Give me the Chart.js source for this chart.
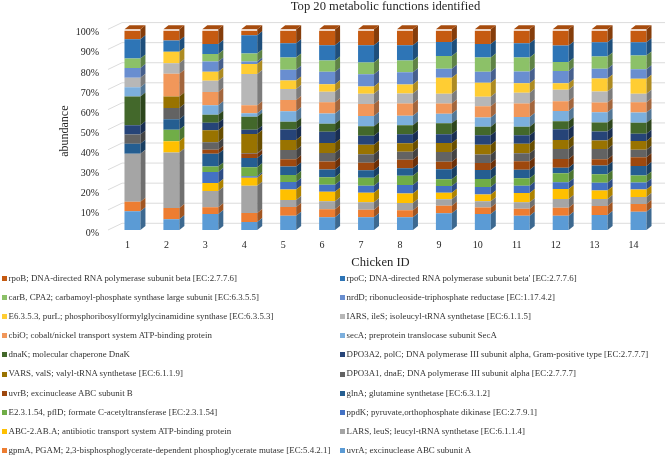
<!DOCTYPE html>
<html>
<head>
<meta charset="utf-8">
<script src="https://cdn.jsdelivr.net/npm/chart.js@4"></script>
<style>
  html, body { margin: 0; padding: 0; background: #fff; }
  #wrap { position: relative; width: 668px; height: 457px; overflow: hidden; }
  #legend { position: absolute; left: 0; top: 268.5px; width: 668px; display: grid; grid-template-columns: 340px 328px; grid-auto-rows: 19.2px; font: 8.9px "Liberation Serif", serif; color: #333; }
  #legend div { white-space: nowrap; line-height: 19.2px; display: flex; align-items: center; }
  #legend i { width: 5px; height: 5px; margin: 0 1.5px 0 2px; flex: none; }
  #legend div:nth-child(even) i { margin-left: 0; }
</style>
</head>
<body>
<div id="wrap">
  <canvas id="chart" width="668" height="457"></canvas>
  <div id="legend"></div>
</div>
<script>
const chickens = ['1', '2', '3', '4', '5', '6', '7', '8', '9', '10', '11', '12', '13', '14'];

// abundance per function
const uvrA   = [9.3, 5.3, 8, 4, 7.1, 6.3, 6.3, 6.3, 8.3, 8, 7.1, 7.1, 7.5, 9.1];
const gpmA   = [4.8, 5.6, 3.3, 4.5, 4.3, 4, 3.8, 3.5, 3.8, 3.2, 3.5, 4, 4.5, 3.8];
const lars   = [23.8, 27.6, 8.1, 13.6, 3.5, 4, 3.8, 3.7, 3.2, 3.2, 3.3, 4.3, 3.5, 3.5];
const abc    = [0, 5.6, 4, 4, 5.3, 4.7, 4.7, 4.7, 3.3, 3.3, 4.5, 5, 4.2, 3.8];
const ppdK   = [0, 0, 5.5, 0.7, 3.7, 3.5, 3.5, 4.3, 3.3, 3.8, 3.7, 3.3, 3.8, 3.5];
const pflD   = [0, 5.6, 2.8, 4.5, 3.5, 3.8, 4, 4.5, 3.3, 4, 3.7, 4.5, 4.3, 3.5];
const glnA   = [5, 5.3, 6.3, 4.6, 4.2, 3.8, 3.7, 3.8, 5.1, 4.5, 4.2, 2.8, 4.3, 4.7];
const uvrB   = [0, 0, 2, 2.2, 3.7, 4, 3.8, 4.2, 3.7, 3.5, 4.3, 4.3, 3.2, 4.3];
const dnaE   = [4.6, 5.6, 3.7, 0.3, 4.5, 4.3, 4.2, 4, 4.8, 4.2, 4, 5, 5, 3.8];
const vars   = [0, 5.6, 6, 9.5, 5, 5, 4.7, 4.3, 4.5, 4.8, 4.7, 4.5, 4.3, 4.3];
const polC   = [4.6, 0, 3.7, 2.2, 5.3, 5.5, 4.5, 4.5, 4.3, 4.8, 4.2, 5.3, 4.5, 3.7];
const dnaK   = [14.3, 0, 4, 6.5, 3.8, 4, 4.8, 4.5, 5.5, 4.2, 4.3, 4, 4.5, 5.5];
const secA   = [4.6, 0, 4.8, 1.7, 5.3, 5.1, 5.1, 4.7, 4.8, 4.7, 4.8, 5.1, 5.1, 5];
const cbiO   = [0, 11.3, 6.6, 4, 5.6, 5.6, 6, 6.1, 5.1, 5.6, 6.8, 4.8, 4.8, 5.1];
const iars   = [4.8, 5.3, 5.6, 15.6, 5.5, 5.3, 5, 5, 4.8, 4.7, 5.3, 5.8, 5.5, 4.3];
const purL   = [0, 5.6, 4.5, 5, 4.2, 3.7, 3.7, 4.5, 8, 7, 4.8, 3.2, 6.5, 7.5];
const nrdD   = [4.8, 0, 5.1, 1.2, 5.3, 6.3, 6.1, 6.1, 4.5, 5.5, 5.8, 6.1, 4.8, 4.7];
const carB   = [4.8, 0, 3.7, 4, 6.1, 5.5, 5.8, 5.8, 6.3, 7.1, 7, 4.5, 6.1, 6.8];
const rpoC   = [9.5, 5.6, 5, 9.1, 7.1, 7.6, 8.6, 7.6, 7, 6.8, 7.1, 8.1, 7.1, 6.6];
const rpoB   = [5, 5.6, 7.3, 3, 7, 8, 8, 8, 6.3, 7.3, 7, 8.1, 6.5, 6.5];

// legend order, the stack runs the other way round (uvrA at the bottom)
const names = [
  'rpoB; DNA-directed RNA polymerase subunit beta [EC:2.7.7.6]',
  "rpoC; DNA-directed RNA polymerase subunit beta' [EC:2.7.7.6]",
  'carB, CPA2; carbamoyl-phosphate synthase large subunit [EC:6.3.5.5]',
  'nrdD; ribonucleoside-triphosphate reductase [EC:1.17.4.2]',
  'E6.3.5.3, purL; phosphoribosylformylglycinamidine synthase [EC:6.3.5.3]',
  'IARS, ileS; isoleucyl-tRNA synthetase [EC:6.1.1.5]',
  'cbiO; cobalt/nickel transport system ATP-binding protein',
  'secA; preprotein translocase subunit SecA',
  'dnaK; molecular chaperone DnaK',
  'DPO3A2, polC; DNA polymerase III subunit alpha, Gram-positive type [EC:2.7.7.7]',
  'VARS, valS; valyl-tRNA synthetase [EC:6.1.1.9]',
  'DPO3A1, dnaE; DNA polymerase III subunit alpha [EC:2.7.7.7]',
  'uvrB; excinuclease ABC subunit B',
  'glnA; glutamine synthetase [EC:6.3.1.2]',
  'E2.3.1.54, pflD; formate C-acetyltransferase [EC:2.3.1.54]',
  'ppdK; pyruvate,orthophosphate dikinase [EC:2.7.9.1]',
  'ABC-2.AB.A; antibiotic transport system ATP-binding protein',
  'LARS, leuS; leucyl-tRNA synthetase [EC:6.1.1.4]',
  'gpmA, PGAM; 2,3-bisphosphoglycerate-dependent phosphoglycerate mutase [EC:5.4.2.1]',
  'uvrA; excinuclease ABC subunit A'
];
const colors = ['#C55A11', '#2E75B6', '#8CC168', '#698ED0', '#FFCD33', '#B7B7B7', '#F1975A', '#7CAFDD', '#43682B', '#264478',
  '#997300', '#636363', '#9E480E', '#255E91', '#70AD47', '#4472C4', '#FFC000', '#A5A5A5', '#ED7D31', '#5B9BD5'];
const values = [rpoB, rpoC, carB, nrdD, purL, iars, cbiO, secA, dnaK, polC, vars, dnaE, uvrB, glnA, pflD, ppdK, abc, lars, gpmA, uvrA];

const serif = 'Liberation Serif';
const depthX = 5, depthY = 4;      // bar extrusion
const wallX = 14, wallY = 6.7;     // back wall offset
const wallStart = 108;             // front edge of the floor

// each column is a 100% stack
const totals = chickens.map((c, i) => values.reduce((s, v) => s + v[i], 0));
const datasets = names.map((n, k) => ({
  label: n,
  data: values[k].map((v, i) => v / totals[i] * 100),
  backgroundColor: colors[k],
  borderWidth: 0,
  barPercentage: 0.41,
  categoryPercentage: 1
})).reverse();

function shade(hex, f) {
  const n = parseInt(hex.slice(1), 16);
  return `rgb(${(n >> 16) * f | 0},${((n >> 8) & 255) * f | 0},${(n & 255) * f | 0})`;
}

function poly(ctx, pts, fill) {
  ctx.fillStyle = fill;
  ctx.beginPath();
  pts.forEach((p, i) => i ? ctx.lineTo(p[0], p[1]) : ctx.moveTo(p[0], p[1]));
  ctx.closePath();
  ctx.fill();
}

const wall = {
  id: 'wall',
  afterLayout(chart) {
    // axis titles sit off the bars a little, nudge them only
    chart.scales.x.left -= 5;
    chart.scales.x.right -= 5;
    chart.scales.y.top += 1.5;
    chart.scales.y.bottom += 1.5;
  },
  beforeDatasetsDraw(chart) {
    const { ctx, scales: { y }, chartArea } = chart;
    ctx.save();
    ctx.strokeStyle = '#dcdcdc';
    ctx.lineWidth = 1;
    y.ticks.forEach(t => {
      const py = y.getPixelForValue(t.value);
      ctx.beginPath();
      ctx.moveTo(wallStart, py);
      ctx.lineTo(wallStart + wallX, py - wallY);
      ctx.lineTo(chartArea.right + 7, py - wallY);
      ctx.stroke();
    });
    ctx.restore();
  }
};

const extrude = {
  id: 'extrude',
  afterDatasetDraw(chart, args) {
    const { ctx } = chart;
    const color = chart.data.datasets[args.index].backgroundColor;
    const top = args.index === chart.data.datasets.length - 1;
    args.meta.data.forEach(bar => {
      const { x, y, base, width } = bar.getProps(['x', 'y', 'base', 'width'], true);
      const l = x - width / 2, r = x + width / 2;
      if (base - y > 0.01) {
        poly(ctx, [[r, y], [r + depthX, y - depthY], [r + depthX, base - depthY], [r, base]], shade(color, 0.68));
      }
      if (top) {
        poly(ctx, [[l, y], [l + depthX, y - depthY], [r + depthX, y - depthY], [r, y]], shade(color, 0.85));
      }
    });
  }
};

const chart = new Chart(document.getElementById('chart'), {
  type: 'bar',
  data: { labels: chickens, datasets: datasets },
  options: {
    responsive: false,
    animation: false,
    layout: { padding: { right: 10, bottom: 177 } },
    plugins: {
      legend: { display: false },
      tooltip: { enabled: false },
      title: {
        display: true,
        fullSize: false,
        text: 'Top 20 metabolic functions identified',
        color: '#262626',
        font: { family: serif, size: 12.6, weight: 'normal', lineHeight: 1 },
        padding: { top: 0.7, bottom: 16 }
      }
    },
    scales: {
      x: {
        stacked: true,
        grid: { display: false, drawTicks: false },
        border: { display: false },
        ticks: { color: '#262626', font: { family: serif, size: 10 }, padding: 9.5, labelOffset: -5, maxRotation: 0 },
        title: { display: true, text: 'Chicken ID', color: '#262626', font: { family: serif, size: 12.6 }, padding: { top: 0, bottom: 10 } },
        afterFit(s) { s.height = 50; }
      },
      y: {
        stacked: true,
        min: 0,
        max: 100,
        grid: { display: false, drawTicks: false },
        border: { display: false },
        ticks: { stepSize: 10, color: '#262626', font: { family: serif, size: 10 }, padding: 14, labelOffset: 3.5, callback: v => v + '%' },
        title: { display: true, text: 'abundance', color: '#262626', font: { family: serif, size: 12 }, padding: { top: 58, bottom: 0 } },
        afterFit(s) { s.width = 113; }
      }
    }
  },
  plugins: [wall, extrude]
});

// html legend in two columns, same order as the reference
const legendEl = document.getElementById('legend');
names.forEach((n, k) => {
  const row = document.createElement('div');
  const mark = document.createElement('i');
  mark.style.background = colors[k];
  row.appendChild(mark);
  row.appendChild(document.createTextNode(n));
  legendEl.appendChild(row);
});
</script>
</body>
</html>
